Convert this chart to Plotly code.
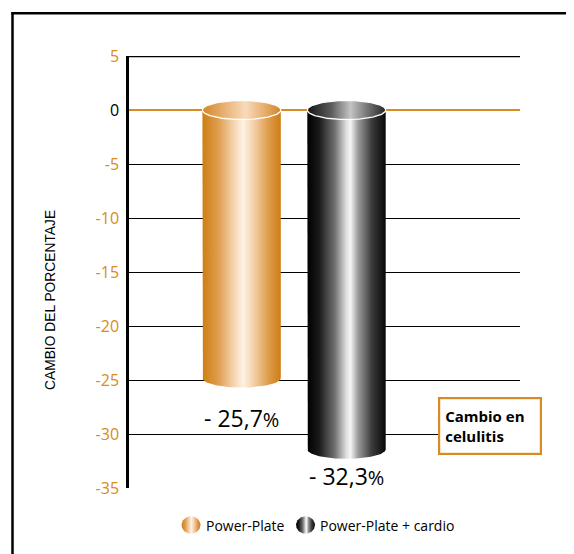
import numpy as np
import plotly.graph_objects as go

# ---- data ----
categories = ["Power-Plate", "Power-Plate + cardio"]
values = [-25.7, -32.3]
value_labels = ["- 25,7", "- 32,3"]
tick_vals = [5, 0, -5, -10, -15, -20, -25, -30, -35]
y_title = "CAMBIO DEL PORCENTAJE"
box_text = "Cambio en<br>celulitis"

# ---- styling ----
W, H = 574, 554
OFF = 8  # page body margin offset
ORANGE = "#D98A22"
body_scales = [
    [[0, "#CE7E14"], [0.2, "#DE9D4C"], [0.4, "#F5D4B0"], [0.52, "#FDF1E6"],
     [0.66, "#F3CFA6"], [0.85, "#DD9A48"], [1, "#CE7E16"]],
    [[0, "#000000"], [0.15, "#1a1a1a"], [0.35, "#707070"], [0.5, "#e0e0e0"],
     [0.55, "#f6f6f6"], [0.65, "#9a9a9a"], [0.82, "#3c3c3c"], [1, "#080808"]],
]
top_scales = [
    [[0, "#D4862A"], [0.3, "#E9B479"], [0.55, "#F8DBBB"], [0.8, "#E5AD6C"], [1, "#D28428"]],
    [[0, "#151515"], [0.3, "#5a5a5a"], [0.55, "#c4c4c4"], [0.75, "#7a7a7a"], [1, "#262626"]],
]


def fx(px):
    return (px - OFF) / W


def fy(py):
    return (H - (py - OFF)) / H


# axis geometry (pixels in the 574x554 window)
px_left, px_right = 129, 520
py_top, py_bot = 56, 488
y_range = [-35, 5]
px_per_unit_y = (py_bot - py_top) / (y_range[1] - y_range[0])
bar_px_centers = [241.6, 346.5]
px_per_unit_x = bar_px_centers[1] - bar_px_centers[0]
x_range = [-(bar_px_centers[0] - px_left) / px_per_unit_x,
           (px_right - bar_px_centers[0]) / px_per_unit_x]
half_w = 39.2 / px_per_unit_x
half_h = 9.5 / px_per_unit_y

fig = go.Figure()

t_low = np.linspace(np.pi, 2 * np.pi, 60)
t_full = np.linspace(0, 2 * np.pi, 121)
for i, v in enumerate(values):
    c = i
    yb = v + half_h
    xs = [c - half_w, c - half_w] + list(c + half_w * np.cos(t_low)) + [c + half_w, c - half_w]
    ys = [0, yb] + list(yb + half_h * np.sin(t_low)) + [0, 0]
    fig.add_trace(go.Scatter(
        x=xs, y=ys, mode="lines", fill="toself", line=dict(width=0, color="rgba(0,0,0,0)"),
        fillgradient=dict(type="horizontal", colorscale=body_scales[i]),
        hoverinfo="skip", showlegend=False, xaxis="x", yaxis="y"))
    fig.add_trace(go.Scatter(
        x=list(c + half_w * np.cos(t_full)), y=list(half_h * np.sin(t_full)),
        mode="lines", fill="toself", line=dict(width=1.3, color="white"),
        fillgradient=dict(type="horizontal", colorscale=top_scales[i]),
        hoverinfo="skip", showlegend=False, xaxis="x", yaxis="y"))

# legend icons on a pixel-based helper axis (window pixel coordinates)
leg_icon_x = [191, 305.5]
leg_y = 525
for i, cx in enumerate(leg_icon_x):
    fig.add_trace(go.Scatter(
        x=list(cx + 9.5 * np.cos(t_full)), y=list(leg_y + 8.7 * np.sin(t_full)),
        mode="lines", fill="toself", line=dict(width=0, color="rgba(0,0,0,0)"),
        fillgradient=dict(type="horizontal", colorscale=body_scales[i]),
        hoverinfo="skip", showlegend=False, xaxis="x2", yaxis="y2"))

ticktext = [("<span style='color:black'>0</span>" if t == 0 else str(t)) for t in tick_vals]

fig.update_layout(
    width=W, height=H, margin=dict(l=0, r=0, t=0, b=0, autoexpand=False),
    paper_bgcolor="white", plot_bgcolor="rgba(0,0,0,0)",
    font=dict(family="Open Sans", color="black"),
    xaxis=dict(domain=[fx(px_left), fx(px_right)], range=x_range, showgrid=False,
               zeroline=False, showticklabels=False, showline=False, automargin=False),
    yaxis=dict(domain=[fy(py_bot), fy(py_top)], range=y_range,
               tickvals=tick_vals, ticktext=ticktext,
               tickfont=dict(family="Open Sans", size=16, color=ORANGE),
               showgrid=True, gridcolor="black", gridwidth=1,
               zeroline=True, zerolinecolor=ORANGE, zerolinewidth=2.2,
               showline=True, linecolor="black", linewidth=2.5,
               ticks="", ticklabelstandoff=4, automargin=False),
    xaxis2=dict(domain=[0, 1], range=[OFF, W + OFF], visible=False, anchor="y2", automargin=False),
    yaxis2=dict(domain=[0, 1], range=[H + OFF, OFF], visible=False, anchor="x2", automargin=False),
    showlegend=False,
)

shapes = [
    # outer frame
    dict(type="line", xref="paper", yref="paper", x0=fx(12.5), x1=fx(12.5),
         y0=0, y1=fy(12), line=dict(color="black", width=2.5)),
    dict(type="line", xref="paper", yref="paper", x0=fx(11.5), x1=1,
         y0=fy(13.3), y1=fy(13.3), line=dict(color="black", width=2.5)),
    # top grid line at 5
    dict(type="line", xref="x domain", yref="y", x0=0, x1=1, y0=5, y1=5,
         line=dict(color="black", width=2.5), layer="below"),
]
fig.update_layout(shapes=shapes)

ann = []
label_shift = [-30, -17]
for i, (v, lab) in enumerate(zip(values, value_labels)):
    ann.append(dict(x=i, y=v, xref="x", yref="y", yshift=label_shift[i],
                    text=lab + "<span style='font-size:20px'>%</span>", showarrow=False,
                    font=dict(family="Open Sans", size=23, color="black"),
                    xanchor="center", yanchor="middle"))
ann.append(dict(x=fx(51), y=fy(300), xref="paper", yref="paper", text=y_title,
                textangle=-90, showarrow=False, xanchor="center", yanchor="middle",
                font=dict(family="Liberation Sans", size=13.8, color="black")))
ann.append(dict(x=fx(490), y=fy(425.5), xref="paper", yref="paper", text="<b>" + box_text + "</b>",
                showarrow=False, align="left", width=90, height=44, borderpad=5,
                xanchor="center", yanchor="middle",
                bgcolor="white", bordercolor=ORANGE, borderwidth=2.2,
                font=dict(family="Open Sans", size=15, color="black")))
leg_text_x = [204, 318]
for i, cat in enumerate(categories):
    ann.append(dict(x=leg_text_x[i], y=leg_y, xref="x2", yref="y2", text=cat, showarrow=False,
                    xanchor="left", yanchor="middle",
                    font=dict(family="Open Sans", size=14, color="black")))
fig.update_layout(annotations=ann)

fig.write_html("out.html")
